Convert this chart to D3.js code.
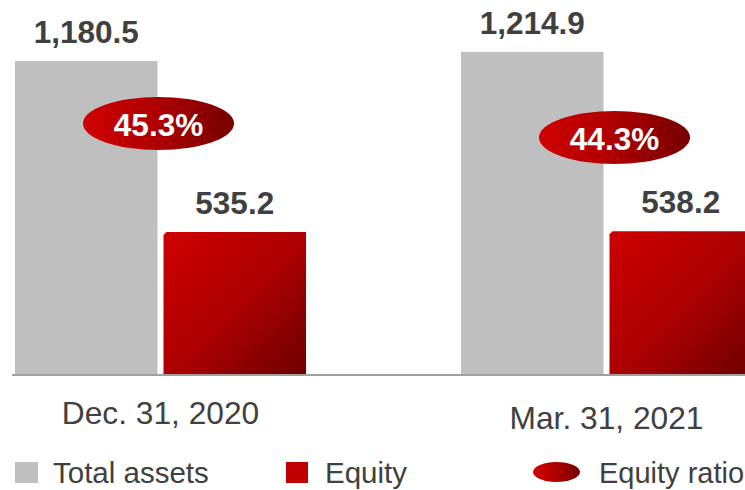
<!DOCTYPE html>
<html>
<head>
<meta charset="utf-8">
<script src="https://cdn.jsdelivr.net/npm/d3@7"></script>
<style>
	body{margin:0;background:#fff;}
	svg text{font-family:"Liberation Sans",Arial,sans-serif;}
</style>
</head>
<body>
<div id="chart"></div>
<script>
var categories=["Dec. 31, 2020","Mar. 31, 2021"];
var seriesNames=["Total assets","Equity"];
var totalAssets=[1180.5,1214.9];
var equity=[535.2,538.2];
var equityRatio=[45.3,44.3];

(function(){
	var width=745,height=490;
	var baseY=374;
	var labelY=[424,429];      // category label baselines
	var ratioShift=[-2,8];     // ellipses sit slightly off the group centre

	var svg=d3.select("#chart").append("svg")
			.attr("width",width)
			.attr("height",height);

	var defs=svg.append("defs");
	var gBar=defs.append("linearGradient").attr("id","barGrad")
			.attr("x1",0).attr("y1",0).attr("x2",1).attr("y2",1);
	gBar.append("stop").attr("offset","0%").attr("stop-color","#cf0000");
	gBar.append("stop").attr("offset","55%").attr("stop-color","#aa0000");
	gBar.append("stop").attr("offset","100%").attr("stop-color","#6e0000");
	var gEll=defs.append("linearGradient").attr("id","ellGrad")
			.attr("x1",0).attr("y1",0).attr("x2",1).attr("y2",0);
	gEll.append("stop").attr("offset","0%").attr("stop-color","#d00000");
	gEll.append("stop").attr("offset","50%").attr("stop-color","#ad0000");
	gEll.append("stop").attr("offset","100%").attr("stop-color","#760000");

	var x0=d3.scaleBand().domain(categories).range([15,752]).paddingInner(0.3475).paddingOuter(0);
	var x1=d3.scaleBand().domain(seriesNames).range([0,x0.bandwidth()]).paddingInner(0.0404);
	var y=d3.scaleLinear().domain([0,1400]).range([baseY,2.8]);
	var y2=d3.scaleLinear().domain([40,50]).range([197.7,57.7]);

	var rows=categories.map(function(c,i){
		return {cat:c,i:i,vals:[{s:"Total assets",v:totalAssets[i]},{s:"Equity",v:equity[i]}]};
	});

	var groups=svg.append("g").selectAll("g.grp")
			.data(rows)
			.enter()
			.append("g")
			.attr("class","grp")
			.attr("transform",function(d){return "translate("+x0(d.cat)+",0)";});

	// total assets bars (flat grey)
	groups.append("rect")
			.attr("x",x1("Total assets"))
			.attr("y",function(d){return y(d.vals[0].v);})
			.attr("width",x1.bandwidth())
			.attr("height",function(d){return baseY-y(d.vals[0].v);})
			.style("fill","#bfbfbf");

	// equity bars, with the little cut corner top left
	groups.append("path")
			.attr("d",function(d){
				var bx=x1("Equity"),bw=x1.bandwidth(),ty=y(d.vals[1].v),c=3;
				return "M"+bx+","+(ty+c)+"L"+(bx+c)+","+ty+"L"+(bx+bw)+","+ty+
					"L"+(bx+bw)+","+baseY+"L"+bx+","+baseY+"Z";
			})
			.style("fill","url(#barGrad)");

	// value labels
	groups.selectAll("text.val")
			.data(function(d){return d.vals;})
			.enter()
			.append("text")
			.attr("class","val")
			.attr("x",function(d){return x1(d.s)+x1.bandwidth()/2;})
			.attr("y",function(d){return y(d.v)-18;})
			.attr("text-anchor","middle")
			.style("font-size","31.5px")
			.style("font-weight","bold")
			.attr("fill","#404040")
			.text(function(d){return d3.format(",.1f")(d.v);});

	// baseline
	svg.append("line")
			.attr("x1",12).attr("x2",width)
			.attr("y1",baseY+1).attr("y2",baseY+1)
			.attr("stroke","#a0a0a0")
			.attr("stroke-width",2);

	// category labels
	groups.append("text")
			.attr("x",x0.bandwidth()/2)
			.attr("y",function(d){return labelY[d.i];})
			.attr("text-anchor","middle")
			.style("font-size","31.7px")
			.attr("fill","#404040")
			.text(function(d){return d.cat;});

	// equity ratio ellipses
	var ratio=groups.append("g")
			.attr("transform",function(d){
				return "translate("+(x0.bandwidth()/2+ratioShift[d.i])+","+y2(equityRatio[d.i])+")";
			});
	ratio.append("ellipse")
			.attr("rx",75.5).attr("ry",26.5)
			.style("fill","url(#ellGrad)");
	ratio.append("text")
			.attr("y",12.5)
			.attr("text-anchor","middle")
			.style("font-size","31.5px")
			.style("font-weight","bold")
			.attr("fill","#fff")
			.text(function(d){return equityRatio[d.i].toFixed(1)+"%";});

	// legend
	var leg=svg.append("g");
	leg.append("rect").attr("x",15).attr("y",462).attr("width",23).attr("height",21).style("fill","#bfbfbf");
	leg.append("text").attr("x",53).attr("y",483).style("font-size","29.5px").attr("fill","#404040").text(seriesNames[0]);
	leg.append("rect").attr("x",286).attr("y",462).attr("width",22).attr("height",21).style("fill","#c00000");
	leg.append("text").attr("x",325).attr("y",483).style("font-size","29.5px").attr("fill","#404040").text(seriesNames[1]);
	leg.append("ellipse").attr("cx",556.5).attr("cy",472).attr("rx",23.5).attr("ry",10).style("fill","url(#ellGrad)");
	leg.append("text").attr("x",599).attr("y",483).style("font-size","29px").attr("fill","#404040").text("Equity ratio");
})();
</script>
</body>
</html>
